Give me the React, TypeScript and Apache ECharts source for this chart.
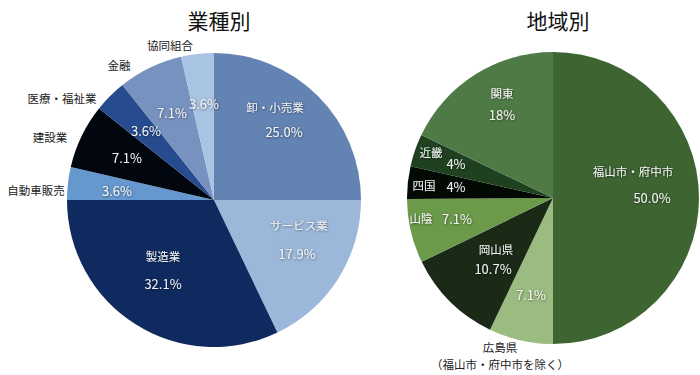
import React, { useEffect, useRef } from "react";
import * as echarts from "echarts";

// ---- Data ----
const industryNames = ["卸・小売業", "サービス業", "製造業", "自動車販売", "建設業", "医療・福祉業", "金融", "協同組合"];
const industryValues = [25.0, 17.9, 32.1, 3.6, 7.1, 3.6, 7.1, 3.6];
const industryPctLabels = ["25.0%", "17.9%", "32.1%", "3.6%", "7.1%", "3.6%", "7.1%", "3.6%"];

const regionNames = ["福山市・府中市", "広島県\n（福山市・府中市を除く）", "岡山県", "山陰", "四国", "近畿", "関東"];
const regionValues = [50.0, 7.1, 10.7, 7.1, 3.6, 3.6, 17.9];
const regionPctLabels = ["50.0%", "7.1%", "10.7%", "7.1%", "4%", "4%", "18%"];

// ---- Styles / layout ----
const industryColors = ["#6383B3", "#9BB8DA", "#0F2A5F", "#6598CE", "#01060F", "#264C8F", "#7892BF", "#A9C3E3"];
const regionColors = ["#3E6432", "#9BBB80", "#1A2A17", "#6B9A4B", "#030A04", "#1F4120", "#4F7A45"];

const industryPctPos: [number, number][] = [[284, 131], [297, 253], [163, 283], [117, 190], [127, 157], [146, 130], [172, 112], [204, 103]];
const industryNamePos: [number, number][] = [[275, 107], [299, 225], [163, 256], [36, 190], [50, 137], [62, 98], [119, 65], [170, 45]];
const industryOutside = [false, false, false, true, true, true, true, true];

const regionPctPos: [number, number][] = [[652, 197], [531, 294], [493, 268], [457, 218], [456, 186], [456, 163], [502, 114]];
const regionNamePos: [number, number][] = [[633, 171], [500, 355], [496, 249], [421, 218], [424, 185], [431, 152], [502, 93]];
const regionOutside = [false, true, false, false, false, false, false];

const FONT = "'Noto Sans CJK JP', 'Noto Sans', sans-serif";

const innerText = {
  color: "#f0f0f0",
  textShadowColor: "rgba(0,0,0,0.55)",
  textShadowBlur: 2,
  textShadowOffsetX: 0.5,
  textShadowOffsetY: 0.5,
};

function pctSeries(names: string[], values: number[], pcts: string[], colors: string[], pos: [number, number][], center: [number, number], r: number) {
  return {
    type: "pie",
    center,
    radius: r,
    startAngle: 90,
    clockwise: true,
    silent: true,
    data: names.map((n, i) => ({ name: n, value: values[i], itemStyle: { color: colors[i] } })),
    itemStyle: { borderWidth: 0 },
    label: {
      show: true,
      position: "inside",
      formatter: (p: any) => pcts[p.dataIndex],
      fontFamily: FONT,
      fontSize: 13,
      ...innerText,
    },
    labelLine: { show: false },
    labelLayout: (p: any) => ({ x: pos[p.dataIndex][0], y: pos[p.dataIndex][1], align: "center", verticalAlign: "middle" }),
  };
}

function nameSeries(names: string[], values: number[], outside: boolean[], pos: [number, number][], center: [number, number], r: number) {
  return {
    type: "pie",
    center,
    radius: r,
    startAngle: 90,
    clockwise: true,
    silent: true,
    data: names.map((n, i) => ({
      name: n,
      value: values[i],
      label: outside[i]
        ? { color: "#222", textShadowBlur: 0, textShadowColor: "transparent", textShadowOffsetX: 0, textShadowOffsetY: 0 }
        : {},
    })),
    itemStyle: { color: "rgba(0,0,0,0)", borderWidth: 0 },
    label: {
      show: true,
      position: "inside",
      formatter: (p: any) => p.name,
      fontFamily: FONT,
      fontSize: 11.5,
      lineHeight: 17,
      align: "center",
      ...innerText,
    },
    labelLine: { show: false },
    labelLayout: (p: any) => ({ x: pos[p.dataIndex][0], y: pos[p.dataIndex][1], align: "center", verticalAlign: "middle" }),
  };
}

export default function App() {
  const ref = useRef<HTMLDivElement>(null);
  useEffect(() => {
    if (!ref.current) return;
    const chart = echarts.init(ref.current, undefined, { renderer: "svg" });
    const lc: [number, number] = [214, 200];
    const rc: [number, number] = [553, 198];
    chart.setOption({
      animation: false,
      backgroundColor: "#ffffff",
      title: [
        { text: "業種別", left: 214, top: 4, textAlign: "center", textStyle: { fontFamily: FONT, fontSize: 21, fontWeight: "normal", color: "#111" } },
        { text: "地域別", left: 553, top: 4, textAlign: "center", textStyle: { fontFamily: FONT, fontSize: 21, fontWeight: "normal", color: "#111" } },
      ],
      series: [
        pctSeries(industryNames, industryValues, industryPctLabels, industryColors, industryPctPos, lc, 147),
        nameSeries(industryNames, industryValues, industryOutside, industryNamePos, lc, 147),
        pctSeries(regionNames, regionValues, regionPctLabels, regionColors, regionPctPos, rc, 146),
        nameSeries(regionNames, regionValues, regionOutside, regionNamePos, rc, 146),
      ],
    });
    return () => chart.dispose();
  }, []);
  return <div ref={ref} style={{ position: "absolute", left: 0, top: 0, width: 700, height: 375 }} />;
}
